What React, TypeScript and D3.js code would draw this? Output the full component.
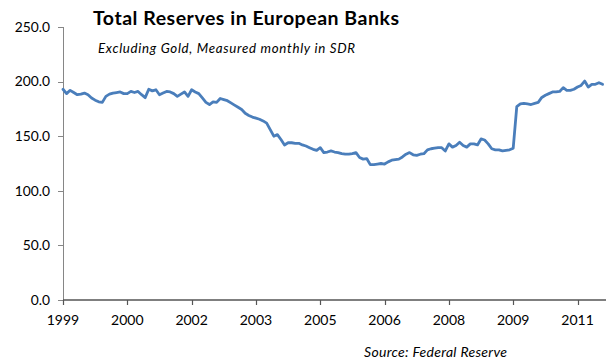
import React from "react";
import * as d3 from "d3";

// Monthly total reserves (excluding gold, SDR bn), Jan 1999 onward
const reserves: number[] = [
  193, 189, 192, 190, 188, 188.5, 189.5, 188, 185, 183,
  181.5, 181, 186.5, 188.5, 189.5, 190, 190.5, 189, 189, 191,
  190, 191, 188, 185.3, 193, 191.5, 192.5, 188, 189.5, 191,
  190.5, 189, 186.5, 188.5, 190.5, 186.5, 192.5, 190.5, 189, 185,
  181, 179, 181.5, 181, 184.5, 183.5, 182.5, 180.5, 178.5, 176.5,
  174.5, 171, 169, 167.5, 166.5, 165.5, 164, 162, 156, 150,
  151.5, 147, 142, 144, 144, 143.5, 143.5, 142, 141, 139.5,
  138, 137, 139.5, 135, 135.5, 136.5, 135.5, 135, 134, 133.5,
  133.5, 134, 135, 130.5, 129, 129.5, 124, 124, 124.5, 125,
  124.5, 126.5, 128, 128.5, 129, 131, 133.5, 135, 133, 132.5,
  133.5, 134, 137.5, 138.5, 139, 139.5, 139.5, 136.5, 143, 140,
  141.5, 144.5, 141.5, 140, 143, 143, 142, 147.5, 146.5, 143,
  138.5, 137.5, 137.5, 136.5, 137, 137.5, 139, 177, 179.5, 180,
  179.5, 179, 180, 181, 185.5, 187.5, 189, 190.5, 190.5, 191,
  194.5, 192, 192, 193, 195, 196.5, 200.5, 195, 197.5, 197.5,
  199, 197.5,
];

const yTicks: number[] = [0, 50, 100, 150, 200, 250];
const xTickMonths: number[] = [0, 18, 36, 54, 72, 90, 108, 126, 144];
const xTickLabels: string[] = ["1999", "2000", "2002", "2003", "2005", "2006", "2008", "2009", "2011"];

const titleText = "Total Reserves in European Banks";
const subtitleText = "Excluding Gold, Measured monthly in SDR";
const sourceText = "Source: Federal Reserve";

const W = 606;
const H = 360;
const FONT = "Lato, 'Open Sans', sans-serif";

export default function App() {
  const x = d3.scaleLinear().domain([0, 152]).range([63, 606.1]);
  const y = d3.scaleLinear().domain([0, 250]).range([300, 27]);

  const line = d3
    .line<number>()
    .x((_, i) => x(i))
    .y((d) => y(d));

  const axisGray = "#868686";

  return (
    <svg
      width={W}
      height={H}
      viewBox={`0 0 ${W} ${H}`}
      style={{ position: "fixed", left: 0, top: 0, background: "#fff", display: "block" }}
    >
      <rect x={0} y={0} width={W} height={H} fill="#fff" />
      {/* Title */}
      <text
        x={93}
        y={24.5}
        fontFamily={FONT}
        fontWeight={700}
        fontSize={19.5}
        fill="#000"
        textLength={306}
        lengthAdjust="spacing"
      >
        {titleText}
      </text>
      <text
        x={98}
        y={53}
        fontFamily={FONT}
        fontStyle="italic"
        fontSize={13.3}
        fill="#000"
        textLength={257}
        lengthAdjust="spacing"
      >
        {subtitleText}
      </text>

      {/* Y axis */}
      <line x1={63.5} x2={63.5} y1={y(250)} y2={y(0)} stroke={axisGray} strokeWidth={1} />
      {yTicks.map((t) => (
        <g key={t}>
          <line x1={58} x2={63.5} y1={Math.round(y(t)) + 0.5} y2={Math.round(y(t)) + 0.5} stroke={axisGray} strokeWidth={1} />
          <text
            x={50}
            y={y(t)}
            dy="0.35em"
            textAnchor="end"
            fontFamily={FONT}
            fontSize={13.8}
            fill="#000"
          >
            {t.toFixed(1)}
          </text>
        </g>
      ))}

      {/* X axis */}
      <line x1={63} x2={W} y1={300} y2={300} stroke="#555" strokeWidth={1.5} />
      {xTickMonths.map((m, i) => (
        <g key={m}>
          <line x1={Math.round(x(m)) + 0.5} x2={Math.round(x(m)) + 0.5} y1={300} y2={305} stroke="#555" strokeWidth={1.2} />
          <text
            x={x(m)}
            y={325}
            textAnchor="middle"
            fontFamily={FONT}
            fontSize={14}
            fill="#000"
          >
            {xTickLabels[i]}
          </text>
        </g>
      ))}

      {/* Series */}
      <path
        d={line(reserves) || ""}
        fill="none"
        stroke="#4a7ebb"
        strokeWidth={2.8}
        strokeLinejoin="round"
        strokeLinecap="round"
      />

      {/* Source */}
      <text
        x={364}
        y={356.5}
        fontFamily={FONT}
        fontStyle="italic"
        fontSize={14}
        fill="#000"
        textLength={143}
        lengthAdjust="spacing"
      >
        {sourceText}
      </text>
    </svg>
  );
}
